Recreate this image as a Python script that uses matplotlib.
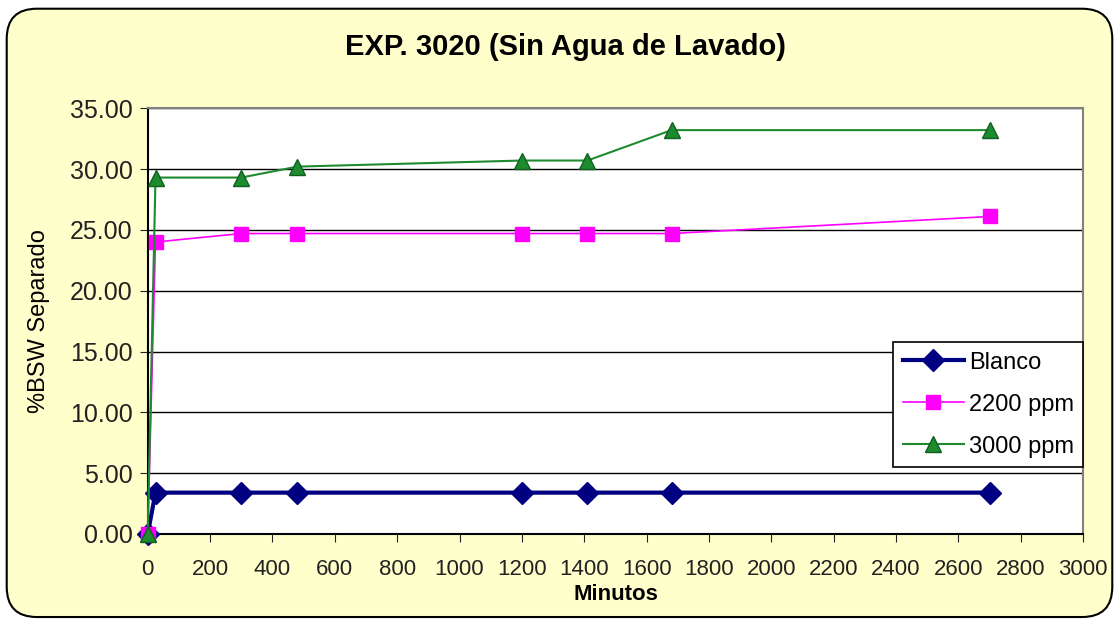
import matplotlib.pyplot as plt
from matplotlib.patches import FancyBboxPatch

plt.rcParams['font.family'] = ['Liberation Sans', 'DejaVu Sans']

# Tiempos de muestreo (min) y % BSW separado
minutos = [0, 25, 300, 480, 1200, 1410, 1680, 2700]
blanco = [0.0, 3.4, 3.4, 3.4, 3.4, 3.4, 3.4, 3.4]
ppm_2200 = [0.0, 24.0, 24.7, 24.7, 24.7, 24.7, 24.7, 26.1]
ppm_3000 = [0.0, 29.3, 29.3, 30.2, 30.7, 30.7, 33.2, 33.2]

fig = plt.figure(figsize=(11.19, 6.22), dpi=100)
fig.patch.set_facecolor('white')
fondo = FancyBboxPatch((0.006, 0.008), 0.988, 0.978,
                       boxstyle='round,pad=0,rounding_size=0.027',
                       transform=fig.transFigure, facecolor='#FFFFCC',
                       edgecolor='black', linewidth=1.5, mutation_aspect=1.8,
                       zorder=-10)
fig.add_artist(fondo)

ax = fig.add_axes([0.132, 0.1415, 0.836, 0.6845])
ax.set_facecolor('white')

ax.plot(minutos, blanco, color='#000080', lw=3, marker='D', ms=11,
        label='Blanco', zorder=3, clip_on=False)
ax.plot(minutos, ppm_2200, color='#FF00FF', lw=1.2, marker='s', ms=10,
        label='2200 ppm', zorder=4, clip_on=False)
ax.plot(minutos, ppm_3000, color='#1E8B2E', lw=1.5, marker='^', ms=11,
        markeredgecolor='#0E6020', label='3000 ppm', zorder=5, clip_on=False)

ax.set_xlim(0, 3000)
ax.set_ylim(0, 35)
ax.set_xticks(range(0, 3001, 200))
ax.set_yticks(range(0, 36, 5))
ax.set_yticklabels([f'{v:.2f}' for v in range(0, 36, 5)])
ax.yaxis.grid(True, color='black', lw=1)
ax.set_axisbelow(True)
for s in ax.spines.values():
    s.set_color('#808080')
    s.set_linewidth(1.5)
ax.spines['left'].set_color('black')
ax.spines['bottom'].set_color('black')
ax.tick_params(axis='both', direction='out', length=6, colors='#222222')
ax.tick_params(axis='y', labelsize=18, pad=5)
ax.tick_params(axis='x', labelsize=16, pad=12)

ax.set_xlabel('Minutos', fontsize=16, fontweight='bold', labelpad=3)
ax.set_ylabel('%BSW Separado', fontsize=17, labelpad=14)
fig.text(0.505, 0.925, 'EXP. 3020 (Sin Agua de Lavado)', fontsize=21,
         fontweight='bold', ha='center', va='center')

leg = ax.legend(loc='lower right', bbox_to_anchor=(1.0, 0.157),
                borderaxespad=0, fontsize=17, handlelength=2.6,
                frameon=True, fancybox=False, framealpha=1,
                labelspacing=0.85, borderpad=0.4, handletextpad=0.2)
leg.get_frame().set_edgecolor('black')
leg.get_frame().set_linewidth(1.2)
leg.set_zorder(10)

fig.savefig('out.png', dpi=100, facecolor=fig.get_facecolor())
